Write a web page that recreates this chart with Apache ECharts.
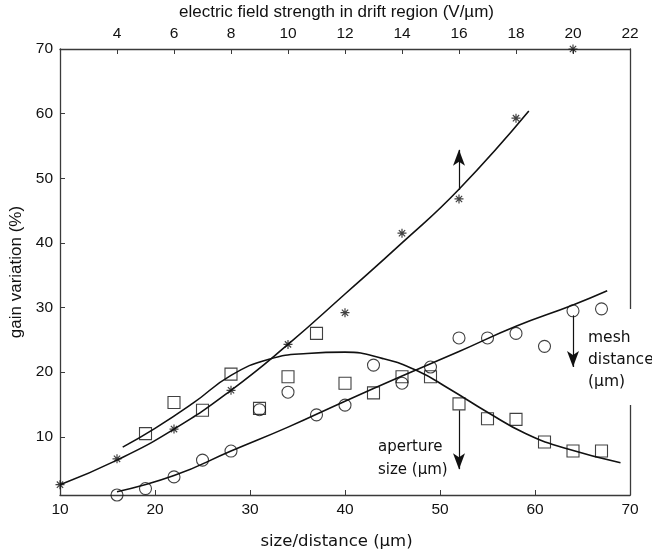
<!DOCTYPE html>
<html>
<head>
<meta charset="utf-8">
<script src="https://cdn.jsdelivr.net/npm/echarts@6/dist/echarts.min.js"></script>
<style>
  html, body { margin: 0; padding: 0; background: #fff; }
  #chart { width: 652px; height: 554px; }
</style>
</head>
<body>
<div id="chart"></div>
<script>
// Tick labels
const bottomTicks = [10, 20, 30, 40, 50, 60, 70];
const topTicks = [4, 6, 8, 10, 12, 14, 16, 18, 20, 22];
const yTicks = [10, 20, 30, 40, 50, 60, 70];

// Gain variation vs drift field (top axis, V/µm)
const fieldX = [2, 4, 6, 8, 10, 12, 14, 16, 18, 20];
const fieldY = [2.6, 6.6, 11.2, 17.2, 24.3, 29.2, 41.5, 46.8, 59.3, 70.0];
// Fitted trend for the field data
const fieldFitX = [2, 4, 6, 8, 10, 12, 14, 16, 18.45];
const fieldFitY = [2.6, 6.4, 11.2, 17.2, 24.3, 32.1, 40.0, 48.3, 60.4];

// Gain variation vs aperture size (bottom axis, µm)
const apertureX = [19, 22, 25, 28, 31, 34, 37, 40, 43, 46, 49, 52, 55, 58, 61, 64, 67];
const apertureY = [10.5, 15.3, 14.1, 19.7, 14.4, 19.3, 26.0, 18.3, 16.8, 19.3, 19.3, 15.1, 12.8, 12.7, 9.2, 7.8, 7.8];
const apertureFitX = [16.6, 20, 24, 28, 32, 36, 40, 44, 47.5, 51, 55, 59, 63, 69];
const apertureFitY = [8.4, 11.3, 15.2, 19.5, 22.0, 22.9, 23.1, 22.1, 20.3, 17.4, 13.8, 10.5, 8.3, 6.0];

// Gain variation vs mesh distance (bottom axis, µm)
const meshX = [16, 19, 22, 25, 28, 31, 34, 37, 40, 43, 46, 49, 52, 55, 58, 61, 64, 67];
const meshY = [1.0, 2.0, 3.8, 6.4, 7.8, 14.2, 16.9, 13.4, 14.9, 21.1, 18.3, 20.8, 25.3, 25.3, 26.0, 24.0, 29.5, 29.8];
const meshFitX = [16, 22, 28, 34, 40, 46, 52, 58, 64, 67.6];
const meshFitY = [1.5, 4.0, 7.8, 11.5, 15.5, 19.4, 23.2, 27.1, 30.4, 32.6];

// Direction arrows: [x, from, to]
const fieldArrow = [16, 48.2, 54.4];
const meshArrow = [64, 28.8, 20.8];
const apertureArrow = [52, 14.1, 5.0];

const zip = (xs, ys) => xs.map((x, i) => [x, ys[i]]);

const ink = '#111';
const axisInk = '#3a3a3a';
const tickFont = 'Liberation Sans, Arial, sans-serif';
const noteFont = 'DejaVu Sans, Verdana, sans-serif';

const asterisk = 'path://M5,0L5,10M0,5L10,5M1.5,1.5L8.5,8.5M1.5,8.5L8.5,1.5';

function arrow(a) {
  return {
    silent: true,
    symbol: ['none', 'arrow'],
    symbolSize: [9, 16],
    label: { show: false },
    emphasis: { disabled: true },
    lineStyle: { color: ink, width: 1.2, type: 'solid' },
    data: [[{ coord: [a[0], a[1]] }, { coord: [a[0], a[2]] }]]
  };
}

const fitStyle = { color: ink, width: 1.6 };

const chart = echarts.init(document.getElementById('chart'), null, { renderer: 'canvas' });
chart.setOption({
  animation: false,
  backgroundColor: '#fff',
  grid: { left: 60, right: 22, top: 49, bottom: 59, outerBoundsMode: 'none' },
  xAxis: [
    {
      type: 'value', position: 'bottom', min: 10, max: 70, interval: 10,
      name: 'size/distance (\u00b5m)', nameLocation: 'middle', nameGap: 38,
      nameTextStyle: { fontFamily: noteFont, fontSize: 16.5, color: ink, padding: [0, 17, 0, 0] },
      axisLine: { lineStyle: { color: axisInk, width: 1.3 } },
      axisTick: { inside: true, length: 5, lineStyle: { color: axisInk }, customValues: bottomTicks },
      axisLabel: { fontFamily: tickFont, fontSize: 15.5, color: ink, margin: 7, customValues: bottomTicks },
      splitLine: { show: false }
    },
    {
      type: 'value', position: 'top', min: 2, max: 22,
      name: 'electric field strength in drift region (V/\u00b5m)', nameLocation: 'middle', nameGap: 28,
      nameTextStyle: { fontFamily: tickFont, fontSize: 17, color: ink, padding: [0, 17, 0, 0] },
      axisLine: { lineStyle: { color: axisInk, width: 1.3 } },
      axisTick: { inside: true, length: 5, lineStyle: { color: axisInk }, customValues: topTicks },
      axisLabel: { fontFamily: tickFont, fontSize: 15.5, color: ink, margin: 7, customValues: topTicks },
      splitLine: { show: false }
    }
  ],
  yAxis: [
    {
      type: 'value', position: 'left', min: 1, max: 70,
      name: 'gain variation (%)', nameLocation: 'middle', nameGap: 35,
      nameTextStyle: { fontFamily: tickFont, fontSize: 17, color: ink },
      axisLine: { show: true, lineStyle: { color: axisInk, width: 1.3 } },
      axisTick: { show: true, inside: true, length: 5, lineStyle: { color: axisInk }, customValues: yTicks },
      axisLabel: { fontFamily: tickFont, fontSize: 15.5, color: ink, margin: 7, customValues: yTicks },
      splitLine: { show: false }
    },
    {
      type: 'value', position: 'right', min: 1, max: 70,
      axisLine: { show: true, lineStyle: { color: axisInk, width: 1.3 } },
      axisTick: { show: false },
      axisLabel: { show: false },
      splitLine: { show: false }
    }
  ],
  series: [
    {
      name: 'field fit', type: 'line', xAxisIndex: 1, yAxisIndex: 0,
      data: zip(fieldFitX, fieldFitY), smooth: true,
      showSymbol: false, lineStyle: fitStyle, silent: true, z: 2
    },
    {
      name: 'field', type: 'scatter', xAxisIndex: 1, yAxisIndex: 0,
      data: zip(fieldX, fieldY), symbol: asterisk, symbolSize: 9,
      itemStyle: { color: 'rgba(0,0,0,0)', borderColor: ink, borderWidth: 1.2 },
      silent: true, z: 3,
      markLine: arrow(fieldArrow)
    },
    {
      name: 'aperture fit', type: 'line', xAxisIndex: 0, yAxisIndex: 0,
      data: zip(apertureFitX, apertureFitY), smooth: true,
      showSymbol: false, lineStyle: fitStyle, silent: true, z: 2
    },
    {
      name: 'aperture', type: 'scatter', xAxisIndex: 0, yAxisIndex: 0,
      data: zip(apertureX, apertureY), symbol: 'rect', symbolSize: 12,
      itemStyle: { color: 'rgba(0,0,0,0)', borderColor: ink, borderWidth: 1.1 },
      silent: true, z: 3,
      markLine: arrow(apertureArrow)
    },
    {
      name: 'mesh fit', type: 'line', xAxisIndex: 0, yAxisIndex: 0,
      data: zip(meshFitX, meshFitY), smooth: true,
      showSymbol: false, lineStyle: fitStyle, silent: true, z: 2
    },
    {
      name: 'mesh', type: 'scatter', xAxisIndex: 0, yAxisIndex: 0,
      data: zip(meshX, meshY), symbol: 'circle', symbolSize: 12,
      itemStyle: { color: 'rgba(0,0,0,0)', borderColor: ink, borderWidth: 1.1 },
      silent: true, z: 3,
      markLine: arrow(meshArrow)
    }
  ],
  graphic: [
    {
      type: 'rect', z: 100, silent: true,
      shape: { x: 624, y: 309, width: 14, height: 96 },
      style: { fill: '#fff' }
    },
    {
      type: 'text', z: 101, silent: true, left: 588, top: 327,
      style: {
        text: 'mesh\ndistance\n(\u00b5m)', fill: ink,
        font: '15.5px ' + noteFont, lineHeight: 22
      }
    },
    {
      type: 'text', z: 101, silent: true, left: 378, top: 436,
      style: {
        text: 'aperture\nsize (\u00b5m)', fill: ink,
        font: '15px ' + noteFont, lineHeight: 23
      }
    }
  ]
});
</script>
</body>
</html>
